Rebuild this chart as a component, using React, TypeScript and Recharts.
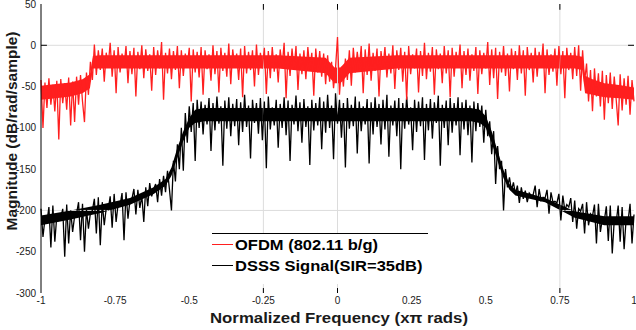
import { ComposedChart, Line, Area, XAxis, YAxis, ReferenceLine, Legend, Label } from 'recharts'

// frequency bins: 301 samples from -1 to 1 (x pi rad/sample)
const FREQ_STEP = 1 / 150
const X_TICKS = [-1, -0.75, -0.5, -0.25, 0, 0.25, 0.5, 0.75, 1]
const Y_TICKS = [-300, -250, -200, -150, -100, -50, 0, 50]
const GRID_X = [-0.25, 0, 0.75]
const GRID_Y = [0, -200]

const SERIES = [
  { key: 'ofdm', name: 'OFDM (802.11 b/g)', color: '#ff1f1f' },
  { key: 'dsss', name: 'DSSS Signal(SIR=35dB)', color: '#000000' },
]

// OFDM (802.11 b/g) magnitude, dB
const ofdm = [
  -42, -100, -45, -76, -40, -72, -48, -80, -43, -114,
  -41, -70, -46, -78, -39, -97, -44, -93, -38, -72,
  -36, -68, -93, -33, -60, -20, -42, 1, -36, -6,
  -30, -4, -44, -9, -25, 3, -38, -6, -58, -2,
  -33, -10, -27, -1, -46, -7, -35, -3, -62, -8,
  -29, 0, -40, -5, -31, -11, -55, -2, -36, -6,
  -28, 4, -66, -9, -34, -4, -41, -7, -30, -1,
  -52, -6, -37, -10, -26, -3, -68, -5, -33, -8,
  -39, -2, -60, -6, -29, -11, -43, 0, -35, -7,
  -57, -3, -31, -9, -38, 2, -47, -5, -27, -10,
  -42, -4, -63, -1, -34, -8, -30, -6, -50, 1,
  -36, -9, -28, -3, -59, -7, -40, -2, -32, -11,
  -45, -5, -26, 3, -64, -8, -37, -4, -30, -1,
  -54, -10, -35, -6, -41, -2, -29, -9, -61, -4,
  -33, -7, -38, -10, -47, -12, -44, -20, -52, -28,
  10, -60, -26, -50, -16, -42, -6, -49, -3, -33,
  -8, -29, -1, -58, -5, -36, 2, -43, -9, -31,
  -4, -62, -7, -27, -2, -39, -10, -34, 0, -53,
  -6, -30, -3, -44, -8, -66, -1, -35, -11, -28,
  -4, -57, -7, -37, 3, -41, -9, -32, -2, -60,
  -5, -29, -10, -46, -1, -34, -6, -63, -3, -38,
  -8, -27, 1, -52, -7, -36, -4, -43, -11, -31,
  -2, -59, -6, -35, -9, -28, 4, -48, -5, -40,
  -3, -65, -8, -33, -1, -37, -10, -56, -4, -29,
  -7, -42, 0, -34, -6, -61, -2, -30, -9, -45,
  -3, -38, -8, -27, 2, -58, -5, -36, -11, -32,
  -4, -49, -1, -35, -7, -64, -3, -30, -9, -41,
  -2, -37, 0, -55, -6, -44, -22, -68, -30, -80,
  -28, -62, -34, -74, -31, -90, -36, -70, -33, -77,
  -38, -66, -97, -35, -79, -40, -72, -37, -84, -42,
  -68,
]

// DSSS signal magnitude, dB
const dsss = [
  -198, -232, -210, -214, -196, -245, -194, -238, -206, -212,
  -209, -198, -256, -193, -240, -200, -226, -207, -204, -190,
  -236, -192, -250, -199, -222, -203, -200, -186, -228, -184,
  -242, -190, -218, -197, -199, -183, -221, -180, -214, -192,
  -194, -179, -236, -178, -210, -188, -186, -174, -205, -175,
  -197, -182, -214, -172, -195, -167, -183, -174, -168, -190,
  -162, -182, -158, -178, -152, -175, -200, -140, -165, -120,
  -150, -100, -152, -82, -118, -74, -105, -70, -140, -66,
  -100, -68, -108, -72, -96, -64, -128, -70, -103, -62,
  -95, -74, -146, -67, -101, -63, -110, -71, -98, -65,
  -121, -69, -105, -60, -99, -73, -137, -66, -94, -70,
  -107, -64, -115, -68, -149, -62, -102, -75, -97, -66,
  -124, -71, -100, -63, -109, -67, -140, -72, -96, -61,
  -104, -69, -118, -65, -99, -74, -145, -66, -103, -70,
  -97, -63, -126, -68, -106, -60, -100, -73, -138, -58,
  -95, -66, -112, -70, -148, -64, -101, -72, -98, -62,
  -131, -68, -104, -74, -96, -65, -143, -69, -108, -63,
  -99, -71, -120, -66, -102, -60, -135, -73, -97, -67,
  -110, -64, -150, -70, -101, -62, -96, -75, -127, -66,
  -105, -68, -98, -63, -139, -71, -103, -65, -113, -69,
  -94, -61, -146, -72, -100, -67, -121, -64, -106, -70,
  -97, -63, -133, -69, -102, -66, -109, -73, -142, -68,
  -104, -70, -99, -73, -118, -78, -110, -92, -132, -104,
  -168, -122, -150, -140, -200, -150, -172, -160, -176, -166,
  -180, -170, -191, -172, -186, -176, -190, -179, -182, -181,
  -170, -196, -174, -188, -184, -185, -175, -204, -178, -190,
  -189, -191, -180, -212, -182, -200, -193, -196, -185, -214,
  -188, -222, -198, -201, -192, -228, -190, -218, -204, -207,
  -193, -240, -192, -226, -210, -212, -195, -237, -194, -252,
  -212, -214, -194, -238, -196, -247, -211, -213, -192, -240,
  -205,
]

// dense core of each trace (where the noise is solid)
const ofdmCoreF = [-1, -0.95, -0.9, -0.86, -0.835, -0.825, -0.8, -0.5, -0.2, -0.04, -0.01, 0.01, 0.04, 0.2, 0.5, 0.8, 0.825, 0.835, 0.86, 0.9, 0.95, 1]
const ofdmCoreHi = [-49, -47, -45, -41, -35, -13, -12, -12, -12, -15, -27, -27, -15, -12, -12, -12, -14, -37, -41, -46, -48, -51]
const ofdmCoreLo = [-66, -64, -62, -58, -52, -28, -28, -28, -28, -34, -46, -46, -34, -28, -28, -28, -30, -58, -60, -63, -64, -66]

const dsssCoreF = [-1, -0.9, -0.8, -0.7, -0.62, -0.58, -0.56, -0.54, -0.52, -0.5, -0.48, -0.45, 0.45, 0.48, 0.5, 0.52, 0.54, 0.56, 0.58, 0.6, 0.7, 0.8, 0.9, 1]
const dsssCoreHi = [-206, -200, -193, -185, -172, -162, -148, -124, -104, -88, -78, -76, -76, -78, -86, -104, -128, -151, -168, -175, -185, -201, -207, -207]
const dsssCoreLo = [-218, -211, -203, -193, -180, -170, -158, -136, -116, -100, -94, -92, -92, -94, -100, -118, -140, -161, -175, -182, -190, -209, -218, -218]

const data = ofdm.map((v, i) => ({ f: -1 + i * FREQ_STEP, ofdm: v, dsss: dsss[i] }))
const ofdmCore = ofdmCoreF.map((f, i) => ({ f, band: [ofdmCoreLo[i], ofdmCoreHi[i]] }))
const dsssCore = dsssCoreF.map((f, i) => ({ f, band: [dsssCoreLo[i], dsssCoreHi[i]] }))

const FONT = '"Liberation Sans", Arial, sans-serif'
const GRID = '#dcdcdc'

function LegendBox() {
  return (
    <div style={{ background: '#fff', borderTop: '1px solid #000', height: 50, fontFamily: FONT, fontWeight: 'bold', fontSize: 15 }}>
      {SERIES.map(s => (
        <div key={s.key} style={{ display: 'flex', alignItems: 'center', height: 21 }}>
          <span style={{ width: 21, height: 1, background: s.color, display: 'inline-block' }} />
          <span style={{ marginLeft: 2, transform: 'scaleX(1.1)', transformOrigin: 'left center', whiteSpace: 'nowrap', color: '#000' }}>{s.name}</span>
        </div>
      ))}
    </div>
  )
}

export default function App() {
  return (
    <div style={{ position: 'absolute', left: 0, top: 0, background: '#fff' }}>
      <ComposedChart width={636} height={330} data={data} margin={{ top: 4, right: 2, bottom: 7, left: 0 }}>
        {GRID_X.map(x => <ReferenceLine key={'gx' + x} x={x} stroke={GRID} />)}
        {GRID_Y.map(y => <ReferenceLine key={'gy' + y} y={y} stroke={GRID} />)}
        <XAxis dataKey="f" type="number" domain={[-1, 1]} ticks={X_TICKS} axisLine={false} tickLine={false}
          tickSize={2} tickMargin={2} height={30} interval={0} allowDuplicatedCategory={false}
          tick={{ fontSize: 10, fill: '#1a1a1a', fontFamily: FONT }}>
          <Label content={() => (
            <text x={339} y={323} textAnchor="middle" textLength={258} lengthAdjust="spacingAndGlyphs"
              style={{ fontFamily: FONT, fontWeight: 'bold', fontSize: 15.5, fill: '#1a1a1a' }}>
              Normalized Frequency (x&pi; rads)
            </text>
          )} />
        </XAxis>
        <YAxis type="number" domain={[-300, 50]} ticks={Y_TICKS} width={41} interval={0}
          axisLine={{ stroke: '#000' }} tickLine={false} tickSize={3} tickMargin={2}
          tick={{ fontSize: 10, fill: '#1a1a1a', fontFamily: FONT }}>
          <Label content={() => (
            <text x={11} y={131} transform="rotate(-90 11 131)" textAnchor="middle" dominantBaseline="central"
              style={{ fontFamily: FONT, fontWeight: 'bold', fontSize: 15.5, fill: '#1a1a1a' }}>
              Magnitude (dB/rad/sample)
            </text>
          )} />
        </YAxis>
        {GRID_X.map(x => <ReferenceLine key={'tt' + x} segment={[{ x, y: 50 }, { x, y: 43 }]} stroke="#000" />)}
        {GRID_X.map(x => <ReferenceLine key={'tb' + x} segment={[{ x, y: -300 }, { x, y: -294 }]} stroke="#000" />)}
        <ReferenceLine segment={[{ x: -1, y: 0 }, { x: -0.98, y: 0 }]} stroke="#000" />
        <ReferenceLine segment={[{ x: 0.98, y: 0 }, { x: 1, y: 0 }]} stroke="#000" />
        <Area data={dsssCore} dataKey="band" type="linear" stroke="none" fill={SERIES[1].color} fillOpacity={1}
          legendType="none" isAnimationActive={false} />
        <Area data={ofdmCore} dataKey="band" type="linear" stroke="none" fill={SERIES[0].color} fillOpacity={1}
          legendType="none" isAnimationActive={false} />
        <Line dataKey="dsss" name={SERIES[1].name} stroke={SERIES[1].color} strokeWidth={1.3} dot={false} isAnimationActive={false} />
        <Line dataKey="ofdm" name={SERIES[0].name} stroke={SERIES[0].color} strokeWidth={1.3} dot={false} isAnimationActive={false} />
        <Legend layout="horizontal" verticalAlign="middle" align="center" content={() => <LegendBox />}
          wrapperStyle={{ left: 212, top: 233, width: 216, height: 50, bottom: 'auto' }} />
      </ComposedChart>
    </div>
  )
}
